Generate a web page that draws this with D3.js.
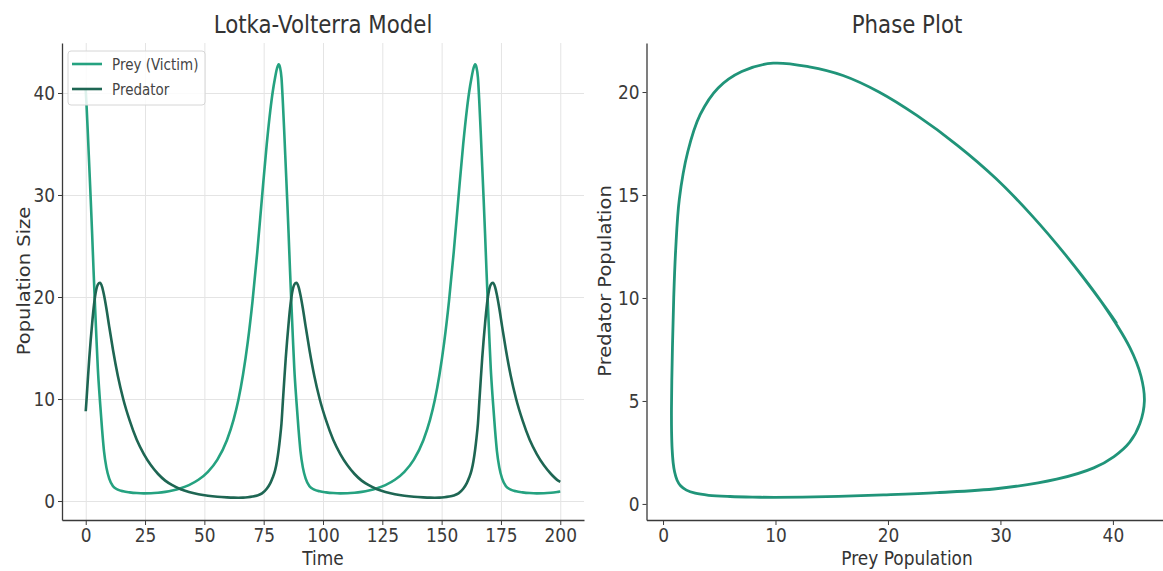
<!DOCTYPE html>
<html>
<head>
<meta charset="utf-8">
<script src="https://cdn.jsdelivr.net/npm/d3@7"></script>
<style>
  body { margin: 0; background: #fff; }
  text { font-family: "DejaVu Sans", sans-serif; }
</style>
</head>
<body>
<svg id="vis" width="1163" height="571"></svg>
<script>
// values (three cycles of the same solution)
let time = [
  0, 0.3, 0.9, 1.5, 2.1, 2.7, 3.3, 3.9, 4.5, 5.1, 6.0, 6.9, 7.7, 8.7, 9.9, 11.5, 13.5, 15.8, 18.5, 21.5,
  24.5, 27.5, 30.5, 33.5, 36.5, 40, 43.5, 47.5, 51.5, 55.5, 59.5, 62.3, 64.3, 66.3, 68.3, 70.3, 72.3, 74.3, 76.3, 77.8,
  78.8, 79.8, 80.6, 81.3,
  81.9, 82.5, 83.1, 83.7, 84.3, 84.9, 85.5, 86.1, 86.7, 87.3, 87.9, 88.8, 89.7, 90.5, 91.5, 92.7, 94.3, 96.3, 98.6, 101.3,
  104.3, 107.3, 110.3, 113.3, 116.3, 119.3, 122.8, 126.3, 130.3, 134.3, 138.3, 142.3, 145.1, 147.1, 149.1, 151.1, 153.1, 155.1, 157.1, 159.1,
  160.6, 161.6, 162.6, 163.4, 164.1,
  164.7, 165.3, 165.9, 166.5, 167.1, 167.7, 168.3, 168.9, 169.5, 170.1, 170.7, 171.6, 172.5, 173.3, 174.3, 175.5, 177.1, 179.1, 181.4, 184.1,
  187.1, 190.1, 193.1, 196.1, 199.1, 200
];
let prey = [
  40.3, 39.0, 36.0, 32.8, 29.6, 26.2, 22.6, 19.2, 16.0, 13.0, 9.8, 7.0, 4.9, 3.3, 2.2, 1.45, 1.12, 0.95, 0.85, 0.78,
  0.75, 0.76, 0.81, 0.9, 1.03, 1.25, 1.56, 2.08, 2.86, 4.06, 5.96, 7.95, 9.87, 12.4, 15.6, 19.6, 24.4, 29.8, 35.0, 38.3,
  40.1, 41.5, 42.4, 42.8,
  42.5, 41.5, 39.0, 36.0, 32.8, 29.6, 26.2, 22.6, 19.2, 16.0, 13.0, 9.8, 7.0, 4.9, 3.3, 2.2, 1.45, 1.12, 0.95, 0.85,
  0.78, 0.75, 0.76, 0.81, 0.9, 1.03, 1.25, 1.56, 2.08, 2.86, 4.06, 5.96, 7.95, 9.87, 12.4, 15.6, 19.6, 24.4, 29.8, 35.0,
  38.3, 40.1, 41.5, 42.4, 42.8,
  42.5, 41.5, 39.0, 36.0, 32.8, 29.6, 26.2, 22.6, 19.2, 16.0, 13.0, 9.8, 7.0, 4.9, 3.3, 2.2, 1.45, 1.12, 0.95, 0.85,
  0.78, 0.75, 0.76, 0.81, 0.9, 0.93
];
let predator = [
  8.8, 9.8, 11.95, 14.0, 15.8, 17.4, 18.85, 20.0, 20.8, 21.22, 21.4, 21.0, 20.2, 18.9, 17.1, 14.8, 12.3, 10.0, 7.9, 6.0,
  4.6, 3.5, 2.65, 2.0, 1.55, 1.15, 0.88, 0.67, 0.52, 0.42, 0.36, 0.33, 0.32, 0.33, 0.37, 0.44, 0.55, 0.75, 1.2, 1.75,
  2.3, 3.0, 3.9, 5.0,
  6.2, 7.6, 9.8, 11.95, 14.0, 15.8, 17.4, 18.85, 20.0, 20.8, 21.22, 21.4, 21.0, 20.2, 18.9, 17.1, 14.8, 12.3, 10.0, 7.9,
  6.0, 4.6, 3.5, 2.65, 2.0, 1.55, 1.15, 0.88, 0.67, 0.52, 0.42, 0.36, 0.33, 0.32, 0.33, 0.37, 0.44, 0.55, 0.75, 1.2,
  1.75, 2.3, 3.0, 3.9, 5.0,
  6.2, 7.6, 9.8, 11.95, 14.0, 15.8, 17.4, 18.85, 20.0, 20.8, 21.22, 21.4, 21.0, 20.2, 18.9, 17.1, 14.8, 12.3, 10.0, 7.9,
  6.0, 4.6, 3.5, 2.65, 2.0, 1.88
];

let timeTicks = [0, 25, 50, 75, 100, 125, 150, 175, 200];
let sizeTicks = [0, 10, 20, 30, 40];
let preyTicks = [0, 10, 20, 30, 40];
let predatorTicks = [0, 5, 10, 15, 20];
let seriesNames = ["Prey (Victim)", "Predator"];

let colors = { prey: "#25a280", predator: "#1e6653", phase: "#209479" };
let sx = 0.87;          // the picture is a bit narrow, so text is squeezed too
let tickFont = 19.5;
let axisColor = "#3a3a3a";

let svg = d3.select("#vis");
svg.append("rect").attr("width", 1163).attr("height", 571).attr("fill", "#fff");

let points = time.map(function(t, i) {
  return { t: t, prey: prey[i], predator: predator[i] };
});

function squeezeTicks(g, side) {
  g.selectAll(".tick text")
    .attr("font-size", tickFont)
    .attr("fill", axisColor)
    .attr("transform", "scale(" + sx + ",1)");
  if (side === "left") {
    g.selectAll(".tick text").attr("x", -7 / sx);
  }
}

function label(parent, txt, x, y, size, rotate, anchor) {
  parent.append("text")
    .attr("transform", "translate(" + x + "," + y + ") scale(" + sx + ",1)" + (rotate ? " rotate(-90)" : ""))
    .attr("text-anchor", anchor || "middle")
    .attr("font-size", size)
    .attr("fill", "#333")
    .text(txt);
}

function drawFrame(x, y, xTicks, yTicks, grid) {
  let left = x.range()[0], right = x.range()[1];
  let bottom = y.range()[0], top = y.range()[1];

  if (grid) {
    svg.append("g")
      .attr("transform", "translate(0," + bottom + ")")
      .call(d3.axisBottom(x).tickValues(xTicks).tickFormat("").tickSize(-(bottom - top)).tickSizeOuter(0))
      .call(function(g) { g.select(".domain").remove(); })
      .attr("color", "#e4e4e4");
    svg.append("g")
      .attr("transform", "translate(" + left + ",0)")
      .call(d3.axisLeft(y).tickValues(yTicks).tickFormat("").tickSize(-(right - left)).tickSizeOuter(0))
      .call(function(g) { g.select(".domain").remove(); })
      .attr("color", "#e4e4e4");
  }

  let gx = svg.append("g")
    .attr("transform", "translate(0," + bottom + ")")
    .attr("color", axisColor)
    .call(d3.axisBottom(x).tickValues(xTicks).tickSize(5).tickPadding(3).tickSizeOuter(0));
  squeezeTicks(gx, "bottom");
  let gy = svg.append("g")
    .attr("transform", "translate(" + left + ",0)")
    .attr("color", axisColor)
    .call(d3.axisLeft(y).tickValues(yTicks).tickSize(4).tickPadding(3).tickSizeOuter(0));
  squeezeTicks(gy, "left");
  svg.selectAll(".domain").attr("stroke-width", 1.3);
}

// left plot: populations over time
let x1 = d3.scaleLinear().domain([-10, 210]).range([62, 584]);
let y1 = d3.scaleLinear().domain([-1.86, 44.9]).range([520, 43]);
drawFrame(x1, y1, timeTicks, sizeTicks, true);

let preyLine = d3.line()
  .curve(d3.curveMonotoneX)
  .x(function(d) { return x1(d.t); })
  .y(function(d) { return y1(d.prey); });
let predatorLine = d3.line()
  .curve(d3.curveMonotoneX)
  .x(function(d) { return x1(d.t); })
  .y(function(d) { return y1(d.predator); });

svg.append("path")
  .attr("d", preyLine(points))
  .attr("fill", "none")
  .attr("stroke", colors.prey)
  .attr("stroke-width", 2.6);
svg.append("path")
  .attr("d", predatorLine(points))
  .attr("fill", "none")
  .attr("stroke", colors.predator)
  .attr("stroke-width", 2.6);

label(svg, "Lotka-Volterra Model", 323, 33, 24.5);
label(svg, "Time", 323, 565, 19.5);
label(svg, "Population Size", 30, 281, 19.5, true);

// legend
let legend = svg.append("g");
legend.append("rect")
  .attr("x", 68).attr("y", 51)
  .attr("width", 137).attr("height", 54)
  .attr("rx", 3)
  .attr("fill", "#fff").attr("fill-opacity", 0.85)
  .attr("stroke", "#d6d6d6");
[colors.prey, colors.predator].forEach(function(c, i) {
  let ly = 64 + i * 25;
  legend.append("line")
    .attr("x1", 72).attr("x2", 102)
    .attr("y1", ly).attr("y2", ly)
    .attr("stroke", c).attr("stroke-width", 2.6);
  legend.append("text")
    .attr("transform", "translate(112," + ly + ") scale(" + sx + ",1)")
    .attr("dy", "0.36em")
    .attr("font-size", 15.5)
    .attr("fill", "#444")
    .text(seriesNames[i]);
});

// right plot: phase plot
let x2 = d3.scaleLinear().domain([-1.47, 44.9]).range([646.5, 1168]);
let y2 = d3.scaleLinear().domain([-0.78, 22.38]).range([520, 43]);
drawFrame(x2, y2, preyTicks, predatorTicks, false);

let phaseLine = d3.line()
  .curve(d3.curveCatmullRom)
  .x(function(d) { return x2(d.prey); })
  .y(function(d) { return y2(d.predator); });
svg.append("path")
  .attr("d", phaseLine(points))
  .attr("fill", "none")
  .attr("stroke", colors.phase)
  .attr("stroke-width", 2.8)
  .attr("stroke-linecap", "round");

label(svg, "Phase Plot", 907, 33, 24.5);
label(svg, "Prey Population", 907, 565, 19.5);
label(svg, "Predator Population", 611, 281, 19.5, true);
</script>
</body>
</html>
